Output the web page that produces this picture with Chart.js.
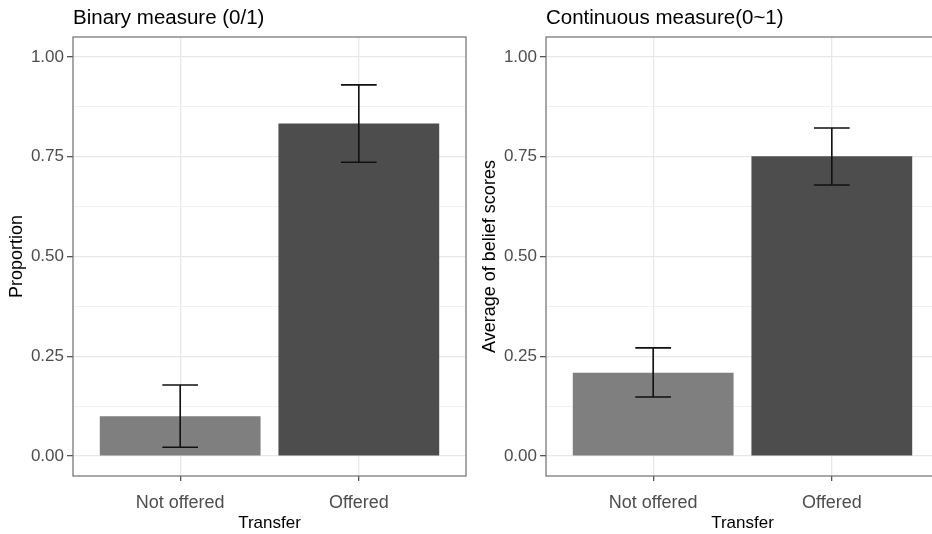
<!DOCTYPE html>
<html>
<head>
<meta charset="utf-8">
<script src="https://cdn.jsdelivr.net/npm/chart.js@4/dist/chart.umd.min.js"></script>
<style>
  html, body { margin: 0; padding: 0; background: #ffffff; overflow: hidden; width: 932px; height: 534px; }
  .panel { position: absolute; top: 0; height: 534px; }
  #left { left: 0; width: 470px; }
  #right { left: 473px; width: 470px; }
</style>
</head>
<body>
<div class="panel" id="left"><canvas id="c1" width="470" height="534"></canvas></div>
<div class="panel" id="right"><canvas id="c2" width="470" height="534"></canvas></div>
<script>
// ---- data ----
const categories = ['Not offered', 'Offered'];
const binaryMeans = [0.100, 0.833];
const binaryLower = [0.022, 0.736];
const binaryUpper = [0.178, 0.930];
const contMeans = [0.209, 0.751];
const contLower = [0.148, 0.679];
const contUpper = [0.271, 0.822];
const yMajorTicks = [0, 0.25, 0.5, 0.75, 1.0];
const yMinorTicks = [0.125, 0.375, 0.625, 0.875];
const panelTitles = ['Binary measure (0/1)', 'Continuous measure(0~1)'];
const yTitles = ['Proportion', 'Average of belief scores'];
const xTitle = 'Transfer';
const barColors = ['#7f7f7f', '#4d4d4d'];

const FONT = "'Liberation Sans', Arial, Helvetica, sans-serif";
const isMinor = v => yMinorTicks.some(m => Math.abs(m - v) < 1e-9);

const errorBarPlugin = {
  id: 'errorBars',
  afterDatasetsDraw(chart, args, opts) {
    const {ctx, scales: {x, y}} = chart;
    ctx.save();
    ctx.strokeStyle = '#111111';
    ctx.lineWidth = 1.6;
    opts.lower.forEach((lo, i) => {
      const hi = opts.upper[i];
      const cx = x.getPixelForValue(i + 1);
      const xl = x.getPixelForValue(i + 1 - opts.cap / 2);
      const xr = x.getPixelForValue(i + 1 + opts.cap / 2);
      const yl = y.getPixelForValue(lo);
      const yh = y.getPixelForValue(hi);
      ctx.beginPath();
      ctx.moveTo(cx, yl); ctx.lineTo(cx, yh);
      ctx.moveTo(xl, yl); ctx.lineTo(xr, yl);
      ctx.moveTo(xl, yh); ctx.lineTo(xr, yh);
      ctx.stroke();
    });
    // panel border
    const a = chart.chartArea;
    ctx.strokeStyle = '#6e6e6e';
    ctx.lineWidth = 1.2;
    ctx.strokeRect(a.left, a.top, a.right - a.left, a.bottom - a.top);
    ctx.restore();
  }
};

const panelTitlePlugin = {
  id: 'panelTitle',
  afterDraw(chart, args, opts) {
    const {ctx, chartArea} = chart;
    ctx.save();
    ctx.font = '20.5px ' + FONT;
    ctx.fillStyle = '#000000';
    ctx.textAlign = 'left';
    ctx.textBaseline = 'alphabetic';
    ctx.fillText(opts.text, chartArea.left, 24);
    ctx.restore();
  }
};

function makeChart(id, means, lower, upper, title, yTitle) {
  return new Chart(document.getElementById(id), {
    type: 'bar',
    data: {
      datasets: [{
        data: means.map((v, i) => ({x: i + 1, y: v})),
        backgroundColor: barColors,
        borderWidth: 0,
        barPercentage: 0.9,
        categoryPercentage: 1.0
      }]
    },
    options: {
      responsive: false,
      animation: false,
      events: [],
      layout: { padding: { top: 37, right: 4, bottom: 0, left: 0 } },
      plugins: {
        legend: { display: false },
        tooltip: { enabled: false },
        title: { display: false },
        errorBars: { lower: lower, upper: upper, cap: 0.2 },
        panelTitle: { text: title }
      },
      scales: {
        x: {
          type: 'linear',
          offset: false,
          min: 0.4, max: 2.6,
          afterBuildTicks: s => { s.ticks = categories.map((c, i) => ({value: i + 1})); },
          afterFit: s => { s.height = 58; },
          grid: { offset: false, color: '#e8e8e8', lineWidth: 1.3, tickColor: '#555555', tickLength: 5, drawTicks: true },
          border: { display: false },
          ticks: {
            callback: v => categories[Math.round(v) - 1],
            font: { family: FONT, size: 18 },
            color: '#4d4d4d',
            padding: 11,
            maxRotation: 0, autoSkip: false
          },
          title: {
            display: true, text: xTitle,
            font: { family: FONT, size: 17 }, color: '#000000',
            padding: { top: 0, bottom: 0 }
          }
        },
        y: {
          type: 'linear',
          min: -0.05, max: 1.05,
          afterBuildTicks: s => {
            s.ticks = yMajorTicks.concat(yMinorTicks).sort((a, b) => a - b).map(v => ({value: v}));
          },
          afterFit: s => { s.width = 73; },
          grid: {
            color: c => (c.tick && isMinor(c.tick.value)) ? '#f2f2f2' : '#e8e8e8',
            lineWidth: c => (c.tick && isMinor(c.tick.value)) ? 1 : 1.3,
            tickColor: c => (c.tick && isMinor(c.tick.value)) ? 'rgba(0,0,0,0)' : '#555555',
            tickLength: 6,
            drawTicks: true
          },
          border: { display: false },
          ticks: {
            callback: v => isMinor(v) ? '' : v.toFixed(2),
            font: { family: FONT, size: 17 },
            color: '#4d4d4d',
            padding: 3,
            autoSkip: false
          },
          title: {
            display: true, text: yTitle,
            font: { family: FONT, size: 18 }, color: '#000000',
            padding: { top: 6, bottom: 0 }
          }
        }
      }
    },
    plugins: [errorBarPlugin, panelTitlePlugin]
  });
}

makeChart('c1', binaryMeans, binaryLower, binaryUpper, panelTitles[0], yTitles[0]);
makeChart('c2', contMeans, contLower, contUpper, panelTitles[1], yTitles[1]);
</script>
</body>
</html>
